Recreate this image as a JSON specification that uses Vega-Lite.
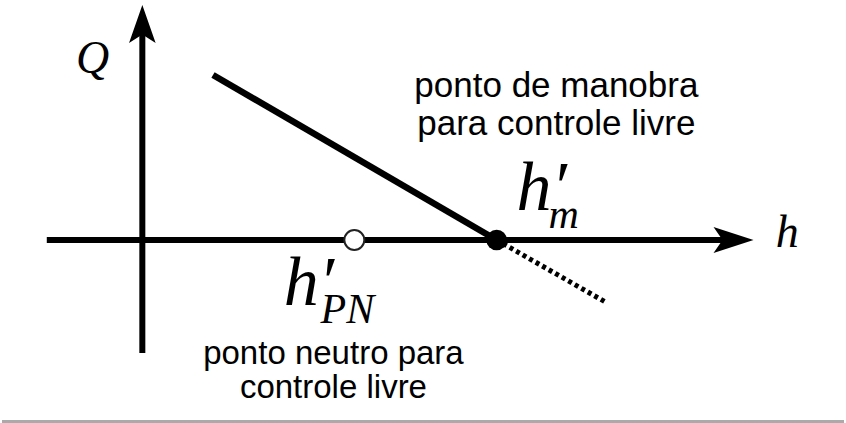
{
  "$schema": "https://vega.github.io/schema/vega-lite/v6.json",
  "width": 846,
  "height": 423,
  "padding": 0,
  "autosize": {"type": "fit", "contains": "padding"},
  "background": "white",
  "config": {"view": {"stroke": null}},
  "datasets": {
    "axes": [
      {"name": "h", "h": -96, "h2": 600, "Q": 0, "Q2": 0},
      {"name": "Q", "h": 0, "h2": 0, "Q": -113, "Q2": 218}
    ],
    "arrowH": [{"h": 594, "Q": 0}],
    "arrowQ": [{"h": 0, "Q": 216}],
    "stick": [{"h": 71, "Q": 165}, {"h": 356, "Q": 0}],
    "stickBeyond": [{"h": 356, "Q": 0}, {"h": 467, "Q": -63}],
    "neutral": [{"h": 213, "Q": 0}],
    "maneuver": [{"h": 356, "Q": 0}],
    "bigSymbols": [
      {"label": "h′", "h": 142, "Q": -65},
      {"label": "h′", "h": 376, "Q": 30}
    ],
    "subscripts": [
      {"label": "PN", "h": 179, "Q": -83},
      {"label": "m", "h": 408, "Q": 12}
    ],
    "axisNames": [
      {"label": "Q", "h": -50, "Q": 167},
      {"label": "h", "h": 648, "Q": -7}
    ],
    "noteManeuver": [{"label": "ponto de manobra\npara controle livre", "h": 416, "Q": 143}],
    "noteNeutral": [{"label": "ponto neutro para\ncontrole livre", "h": 192, "Q": -124}],
    "frame": [{"h": -141, "h2": 705, "Q": -181.5, "Q2": -181.5}]
  },
  "encoding": {
    "x": {"field": "h", "type": "quantitative", "scale": {"domain": [-141, 705], "nice": false, "zero": false}, "axis": null},
    "y": {"field": "Q", "type": "quantitative", "scale": {"domain": [-183, 240], "nice": false, "zero": false}, "axis": null}
  },
  "layer": [
    {
      "data": {"name": "frame"},
      "mark": {"type": "rule", "stroke": "#aaaaaa", "strokeWidth": 3},
      "encoding": {"x2": {"field": "h2"}, "y2": {"field": "Q2"}}
    },
    {
      "data": {"name": "axes"},
      "mark": {"type": "rule", "stroke": "black", "strokeWidth": 6, "strokeCap": "butt"},
      "encoding": {"x2": {"field": "h2"}, "y2": {"field": "Q2"}}
    },
    {
      "data": {"name": "arrowH"},
      "mark": {"type": "point", "shape": "M1,0L-1,-0.65L-0.55,0L-1,0.65Z", "filled": true, "size": 1600, "color": "black", "opacity": 1, "strokeWidth": 0}
    },
    {
      "data": {"name": "arrowQ"},
      "mark": {"type": "point", "shape": "M0,-1L-0.7,1L0,0.55L0.7,1Z", "filled": true, "size": 1444, "color": "black", "opacity": 1, "strokeWidth": 0}
    },
    {
      "data": {"name": "stickBeyond"},
      "mark": {"type": "line", "stroke": "black", "strokeWidth": 5, "strokeDash": [4, 3.5], "strokeCap": "butt"},
      "encoding": {}
    },
    {
      "data": {"name": "stick"},
      "mark": {"type": "line", "stroke": "black", "strokeWidth": 6.5, "strokeCap": "butt"},
      "encoding": {}
    },
    {
      "data": {"name": "neutral"},
      "mark": {"type": "point", "shape": "circle", "filled": true, "size": 400, "fill": "white", "stroke": "#222222", "strokeWidth": 2, "opacity": 1}
    },
    {
      "data": {"name": "maneuver"},
      "mark": {"type": "point", "shape": "circle", "filled": true, "size": 430, "color": "black", "opacity": 1}
    },
    {
      "data": {"name": "bigSymbols"},
      "mark": {"type": "text", "font": "Liberation Serif", "fontStyle": "italic", "fontSize": 70, "align": "left", "baseline": "alphabetic", "color": "black"},
      "encoding": {"text": {"field": "label"}}
    },
    {
      "data": {"name": "subscripts"},
      "mark": {"type": "text", "font": "Liberation Serif", "fontStyle": "italic", "fontSize": 42, "align": "left", "baseline": "alphabetic", "color": "black"},
      "encoding": {"text": {"field": "label"}}
    },
    {
      "data": {"name": "axisNames"},
      "mark": {"type": "text", "font": "Liberation Serif", "fontStyle": "italic", "fontSize": 46, "align": "center", "baseline": "alphabetic", "color": "black"},
      "encoding": {"text": {"field": "label"}}
    },
    {
      "data": {"name": "noteManeuver"},
      "mark": {"type": "text", "font": "Liberation Sans", "fontSize": 35, "align": "center", "baseline": "alphabetic", "lineBreak": "\n", "lineHeight": 38, "color": "black"},
      "encoding": {"text": {"field": "label"}}
    },
    {
      "data": {"name": "noteNeutral"},
      "mark": {"type": "text", "font": "Liberation Sans", "fontSize": 33, "align": "center", "baseline": "alphabetic", "lineBreak": "\n", "lineHeight": 34, "color": "black"},
      "encoding": {"text": {"field": "label"}}
    }
  ]
}
